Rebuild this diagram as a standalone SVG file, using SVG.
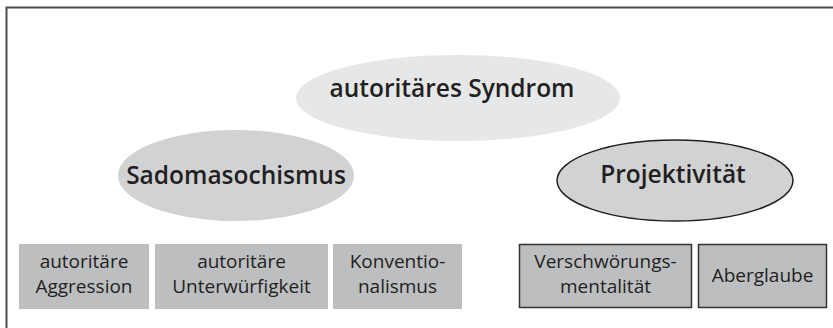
<svg xmlns="http://www.w3.org/2000/svg" width="833" height="328" viewBox="0 0 833 328">
<style>
.t{font-family:"Open Sans","Liberation Sans",sans-serif;fill:#231f20;text-anchor:middle}
.b{font-weight:600;font-size:24.5px}
.r{font-size:19px}
.box{fill:#bcbec0}
.box2{fill:#bcbec0;stroke:#333;stroke-width:1.5}
</style>
<rect x="0" y="0" width="833" height="328" fill="#fff"/>
<rect x="6.5" y="7.5" width="900" height="400" fill="none" stroke="#4d4d4d" stroke-width="2"/>
<g id="connectors"></g>
<g id="n-syndrom">
<ellipse cx="458" cy="98" rx="162" ry="43" fill="#e6e7e8"/>
<text class="t b" x="452" y="97">autoritäres Syndrom</text>
</g>
<g id="n-sado">
<ellipse cx="236" cy="175.5" rx="118" ry="45.5" fill="#d1d2d4"/>
<text class="t b" x="236" y="184">Sadomasochismus</text>
</g>
<g id="n-proj">
<ellipse cx="675" cy="180.5" rx="118" ry="40.5" fill="#d1d2d4" stroke="#231f20" stroke-width="1.5"/>
<text class="t b" x="673" y="183">Projektivität</text>
</g>
<g id="n-aggr">
<rect class="box" x="19" y="244" width="130" height="65"/>
<text class="t r" x="84" y="268">autoritäre</text>
<text class="t r" x="84" y="293">Aggression</text>
</g>
<g id="n-unter">
<rect class="box" x="155" y="244" width="173" height="65"/>
<text class="t r" x="241.5" y="268">autoritäre</text>
<text class="t r" x="241.5" y="293">Unterwürfigkeit</text>
</g>
<g id="n-konv">
<rect class="box" x="333" y="244" width="129" height="65"/>
<text class="t r" x="397.5" y="268">Konventio-</text>
<text class="t r" x="397.5" y="293">nalismus</text>
</g>
<g id="n-versch">
<rect class="box2" x="519.5" y="244.5" width="172" height="63"/>
<text class="t r" x="605.5" y="268">Verschwörungs-</text>
<text class="t r" x="605.5" y="293">mentalität</text>
</g>
<g id="n-aber">
<rect class="box2" x="698.5" y="244.5" width="128" height="63"/>
<text class="t r" x="762.5" y="282">Aberglaube</text>
</g>
</svg>
